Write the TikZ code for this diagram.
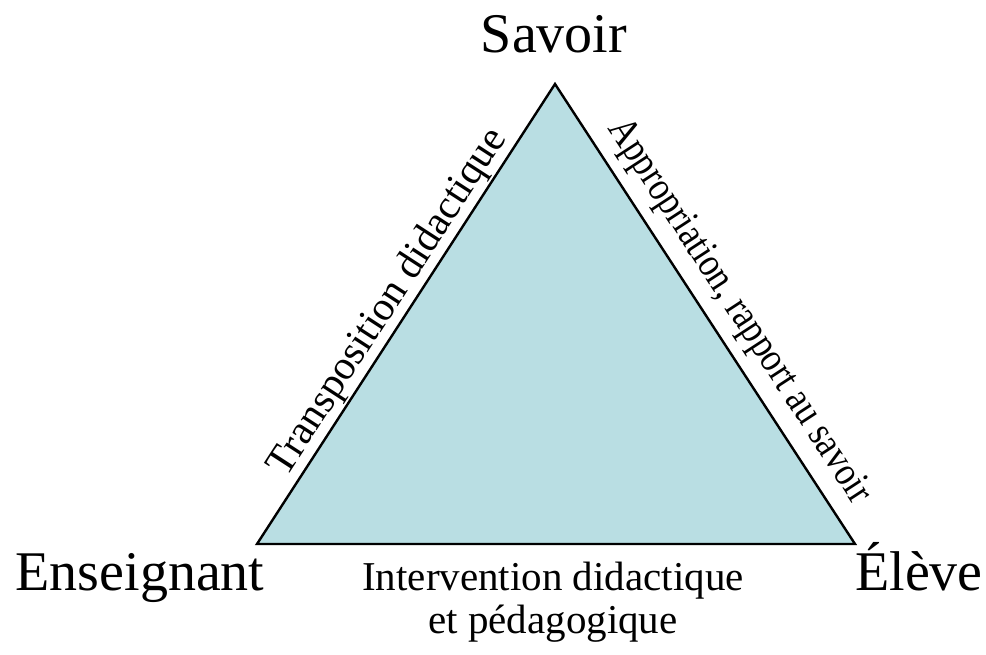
\documentclass[tikz,border=0pt]{standalone}
\usepackage{fontspec}
\usepackage{graphicx}
\setmainfont{Liberation Serif}
\definecolor{trifill}{RGB}{185,222,227}
\begin{document}
\begin{tikzpicture}[x=1pt,y=-1pt,
  bigl/.style={font=\fontsize{56}{60}\selectfont, inner sep=0pt, anchor=base},
  sidel/.style={font=\fontsize{41}{43}\selectfont, inner sep=4pt},
  edge/.style={draw=black, line width=2.4pt}]
\useasboundingbox (0,0) rectangle (986,654);
\coordinate (S) at (555,84);
\coordinate (E) at (257,544);
\coordinate (L) at (855,544);
\fill[trifill] (S) -- (E) -- (L) -- cycle;
\draw[edge, line join=miter] (S) -- (E) -- (L) -- cycle;
\path (E) -- (S) node[midway, sloped, above, sidel, yshift=-2pt] (t1) {Transposition didactique};
\path (S) -- (L) node[pos=0.53, sloped, above, sidel, yshift=7pt] (t2) {\scalebox{0.85}[1]{Appropriation, rapport au savoir}};
\node[sidel, align=center, anchor=north, inner sep=0pt] (t3) at (553,562) {Intervention didactique\\et pédagogique};
\node[bigl] (savoir) at (554,52) {Savoir};
\node[bigl] (ens) at (140,590) {Enseignant};
\node[bigl] (eleve) at (919,590) {Élève};
\end{tikzpicture}
\end{document}
